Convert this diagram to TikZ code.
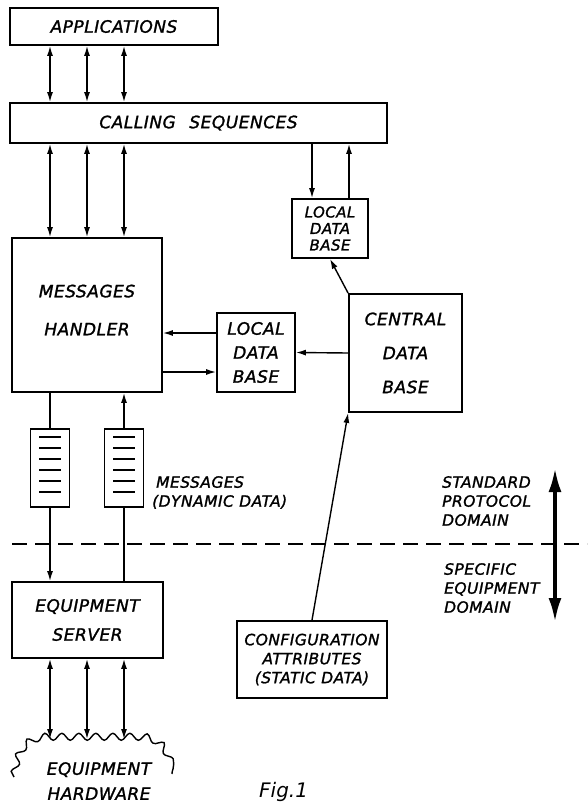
\documentclass[tikz,border=0pt]{standalone}
\usepackage{fontspec}
\usetikzlibrary{arrows.meta,decorations.pathmorphing}
\newfontfamily\lettering[LetterSpace=3,FakeBold=1.4]{DejaVu Sans}
\newfontfamily\figfont{DejaVu Sans}
\newcommand\bigtype{\lettering\itshape\fontsize{17}{21}\selectfont}
\newcommand\smalltype{\lettering\itshape\fontsize{15.5}{19}\selectfont}

\begin{document}
\begin{tikzpicture}[
  x=1pt, y=-1pt,
  box/.style={draw, line width=1.8pt, inner sep=0pt, align=center, font=\bigtype},
  queue/.style={draw, line width=1.8pt, inner sep=0pt, minimum width=39pt, minimum height=78pt},
  flow/.style={-{Latex[length=10pt,width=6pt]}, line width=1.4pt},
  twoway/.style={{Latex[length=10pt,width=6pt]}-{Latex[length=10pt,width=6pt]}, line width=1.4pt},
  wire/.style={line width=1.4pt},
  slot/.style={line width=1.6pt},
  remark/.style={font=\smalltype, align=left, inner sep=0pt, anchor=north west}
]
\useasboundingbox (0,0) rectangle (587,803);

% bus columns
\coordinate (b1) at (50,0);
\coordinate (b2) at (87,0);
\coordinate (b3) at (124,0);
\coordinate (hwtop) at (0,739);

\node[box, minimum width=208pt, minimum height=37pt] (apps) at (114,26.5) {APPLICATIONS};
\node[box, minimum width=377pt, minimum height=40pt] (calls) at (198.5,123) {CALLING\hspace{0.8em}SEQUENCES};
\node[box, minimum width=150pt, minimum height=154pt] (mh) at (87,315) {MESSAGES\\[17pt]HANDLER\\[-11pt]};
\node[box, font=\lettering\itshape\fontsize{15}{16.5}\selectfont,
      minimum width=76pt, minimum height=59pt] (ldbup) at (330,228.5) {LOCAL\\DATA\\BASE};
\node[box, minimum width=78pt, minimum height=79pt] (ldbmid) at (256,352.5) {LOCAL\\[3pt]DATA\\[3pt]BASE};
\node[box, minimum width=113pt, minimum height=118pt] (cdb) at (405.5,353) {CENTRAL\\[13pt]DATA\\[13pt]BASE};

\node[queue] (qleft) at (50,468) {};
\node[queue] (qright) at (124,468) {};
\foreach \q in {qleft,qright}
  \foreach \k in {0,...,5}
    \draw[slot] ([xshift=-11pt, yshift={-(9+11*\k)}]\q.north) -- ++(22,0);

\node[box, minimum width=151pt, minimum height=76pt] (es) at (87.5,620) {EQUIPMENT\\[8pt]SERVER};
\node[box, font=\smalltype, minimum width=150pt, minimum height=77pt] (cfg) at (312,659.5)
  {CONFIGURATION\\ATTRIBUTES\\(STATIC DATA)};
\node[font=\bigtype, align=center, inner sep=0pt, anchor=north] (hw) at (99,762)
  {EQUIPMENT\\[4pt]HARDWARE};

% top bus
\foreach \b in {b1,b2,b3} {
  \draw[twoway] (apps.south -| \b) -- (calls.north -| \b);
  \draw[twoway] (calls.south -| \b) -- (mh.north -| \b);
  \draw[twoway] (es.south -| \b) -- (hwtop -| \b);
}

% local data bases
\coordinate (c1) at ([xshift=-18pt]ldbup.north);
\coordinate (c2) at ([xshift=19pt]ldbup.north);
\draw[flow] (c1 |- calls.south) -- (c1);
\draw[flow] (c2) -- (c2 |- calls.south);
\draw[flow] (cdb.north west) -- (ldbup.south);
\draw[flow] ([yshift=19.5pt]ldbmid.west) -- ([yshift=19.5pt]ldbmid.west -| mh.east);
\draw[flow] ([yshift=-19.5pt]ldbmid.west -| mh.east) -- ([yshift=-19.5pt]ldbmid.west);
\draw[flow] (cdb.west) -- (ldbmid.east);
\draw[flow] (cfg.north) -- (cdb.south west);

% message channels
\draw[wire] (mh.south -| qleft) -- (qleft.north);
\draw[flow] (qleft.south) -- (es.north -| qleft);
\draw[wire] (es.north -| qright) -- (qright.south);
\draw[flow] (qright.north) -- (mh.south -| qright);
\node[remark] (msg) at (152,476) {\hspace{4pt}MESSAGES\\(DYNAMIC DATA)};

% equipment hardware outline
\draw[line width=1.4pt, decorate, decoration={snake, amplitude=3.5pt, segment length=17pt}]
  (14,777) .. controls (17,752) and (28,742) .. (45,741) -- (142,741)
  .. controls (160,742) and (169,755) .. (172,774);

% domain border
\coordinate (dl) at (12,544);
\coordinate (dr) at (587,544);
\draw[line width=1.9pt, dash pattern=on 15pt off 8pt] (dl) -- (dr);
\coordinate (dtop) at (555,468);
\coordinate (dbot) at (555,622);
\draw[{Latex[length=24pt,width=13pt]}-{Latex[length=24pt,width=13pt]}, line width=3.5pt] (dtop) -- (dbot);
\node[remark] (std) at (442,476) {STANDARD\\PROTOCOL\\DOMAIN};
\node[remark] (spec) at (444,563) {SPECIFIC\\EQUIPMENT\\DOMAIN};

\node[font=\figfont\itshape\fontsize{20}{24}\selectfont, inner sep=0pt, anchor=base west] (fig) at (259,797) {Fig.1};

\end{tikzpicture}
\end{document}
